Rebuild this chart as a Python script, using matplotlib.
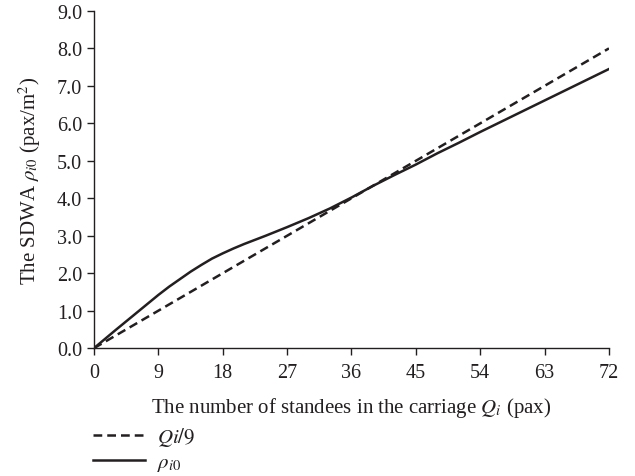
import matplotlib
matplotlib.use("Agg")
import matplotlib.pyplot as plt

plt.rcParams['font.family'] = ['Liberation Serif', 'DejaVu Serif']
plt.rcParams['mathtext.fontset'] = 'stix'

x_vals = [0, 3, 6, 9, 10.5, 12, 13.5, 15, 16.5, 18, 19.5, 21, 24, 27, 30, 33, 36, 39, 42, 45, 48, 51, 54, 57, 60, 63, 66, 69, 72]
rho_vals = [0, 0.48, 0.95, 1.42, 1.64, 1.84, 2.04, 2.22, 2.39, 2.53, 2.66, 2.78, 3.0, 3.23, 3.47, 3.73, 4.02, 4.33, 4.62, 4.9, 5.2, 5.48, 5.77, 6.05, 6.33, 6.61, 6.89, 7.17, 7.45]
q_x = [0, 72]
q_vals = [v / 9 for v in q_x]
x_ticks = [0, 9, 18, 27, 36, 45, 54, 63, 72]
y_ticks = [0, 1, 2, 3, 4, 5, 6, 7, 8, 9]

col = '#231f20'
fig = plt.figure(figsize=(6.35, 4.77), dpi=100)
ax = fig.add_axes([0.148, 0.268, 0.811, 0.707])
l1, = ax.plot(q_x, q_vals, linestyle=(0, (3.5, 2)), color=col, lw=1.8)
l2, = ax.plot(x_vals, rho_vals, linestyle='-', color=col, lw=1.8)
ax.set_xlim(0, 72)
ax.set_ylim(0, 9)
ax.set_xticks(x_ticks)
ax.set_yticks(y_ticks)
ax.set_yticklabels([f"{v:.1f}" for v in y_ticks])
ax.spines['top'].set_visible(False)
ax.spines['right'].set_visible(False)
for s in ['left', 'bottom']:
    ax.spines[s].set_color(col)
    ax.spines[s].set_linewidth(1.0)
ax.tick_params(direction='out', length=5, width=1.0, colors=col, labelsize=14.5, labelcolor=col)
ax.tick_params(axis='x', pad=6)
ax.set_xlabel(r"The number of standees in the carriage $Q_i$ (pax)", fontsize=15, color=col, labelpad=9)
ax.set_ylabel(r"The SDWA $\rho_{i0}$ (pax/m$^2$)", fontsize=15, color=col, labelpad=10)

leg = fig.legend([l1, l2], [r"$Qi/9$", r"$\rho_{i0}$"], loc='upper left',
                 bbox_to_anchor=(0.146, 0.106), bbox_transform=fig.transFigure,
                 frameon=False, fontsize=15, handlelength=2.5, handletextpad=0.6,
                 labelspacing=0.2, borderaxespad=0, borderpad=0)
for t in leg.get_texts():
    t.set_color(col)

fig.savefig("out.png", dpi=100)
